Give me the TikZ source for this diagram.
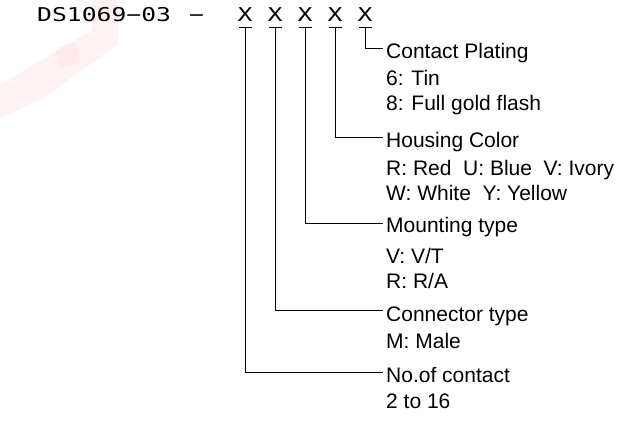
\documentclass[tikz,border=0pt]{standalone}
\usepackage{fontspec}
\setmainfont{Liberation Sans}
\newfontfamily\cadfont[FakeStretch=1.3]{DejaVu Sans Mono}
\begin{document}
\begin{tikzpicture}[x=1bp,y=-1bp,
  lbl/.style={anchor=base west, inner sep=0pt, font=\fontsize{21bp}{24bp}\selectfont},
  code/.style={anchor=base, inner sep=0pt, font=\cadfont\fontsize{19bp}{22bp}\selectfont},
  wire/.style={line width=1bp, black},
  ubar/.style={line width=1bp, black}]
\useasboundingbox (0,0) rectangle (630,422);
% faint watermark
\fill[red, opacity=0.05] (92,0) -- (118,0) -- (118,45) -- (40,100) -- (0,118) -- (0,85) -- (92,30) -- cycle;
\fill[red, opacity=0.04] (55,48) -- (75,42) -- (80,62) -- (60,68) -- cycle;
% code
\node[code, anchor=base west] (title) at (37,21) {DS1069−03\hspace{18bp}−};
\node[code] (x1) at (245,21) {X};
\node[code] (x2) at (275,21) {X};
\node[code] (x3) at (305,21) {X};
\node[code] (x4) at (335,21) {X};
\node[code] (x5) at (365,21) {X};
\foreach \i/\xx in {1/245,2/275,3/305,4/335,5/365}{
  \coordinate (u\i) at (\xx,27);
  \draw[ubar] ([xshift=-6.5bp]u\i) -- ([xshift=6.5bp]u\i);
}
% elbow ends
\coordinate (e5) at (383,48);
\coordinate (e4) at (383,137);
\coordinate (e3) at (383,223);
\coordinate (e2) at (383,310);
\coordinate (e1) at (383,372);
\foreach \i in {1,...,5}{ \draw[wire] (u\i) |- (e\i); }
% labels
\node[lbl] (cp) at (386,58) {Contact Plating};
\node[lbl] (cp1) at (386,85) {6: Tin};
\node[lbl] (cp2) at (386,110) {8: Full gold flash};
\node[lbl] (hc) at (386,147) {Housing Color};
\node[lbl] (hc1) at (386,175) {R: Red\ \ U: Blue\ \ V: Ivory};
\node[lbl] (hc2) at (386,200) {W: White\ \ Y: Yellow};
\node[lbl] (mt) at (386,232) {Mounting type};
\node[lbl] (mt1) at (386,263) {V: V/T};
\node[lbl] (mt2) at (386,288) {R: R/A};
\node[lbl] (ct) at (386,321) {Connector type};
\node[lbl] (ct1) at (386,348) {M: Male};
\node[lbl] (nc) at (386,382) {No.of contact};
\node[lbl] (nc1) at (386,408) {2 to 16};
\end{tikzpicture}
\end{document}
